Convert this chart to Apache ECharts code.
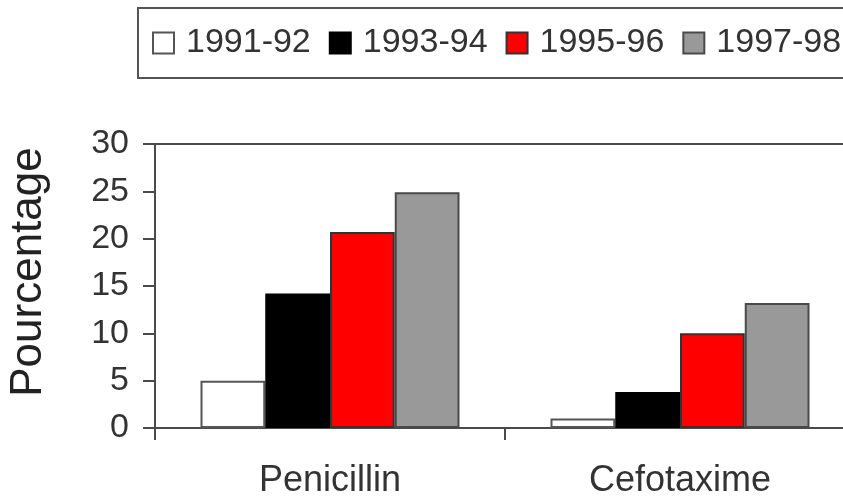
<!DOCTYPE html>
<html>
<head>
<meta charset="utf-8">
<script src="https://cdn.jsdelivr.net/npm/echarts@6/dist/echarts.min.js"></script>
<style>
html,body{margin:0;padding:0;background:#fff;}
#chart{width:843px;height:501px;}
</style>
</head>
<body>
<div id="chart"></div>
<script>
const categories = ['Penicillin', 'Cefotaxime'];
const seriesNames = ['1991-92', '1993-94', '1995-96', '1997-98'];
const v1991 = [5.0, 1.0];
const v1993 = [14.2, 3.8];
const v1995 = [20.7, 10.0];
const v1997 = [24.9, 13.2];
const yTicks = [0, 5, 10, 15, 20, 25, 30];

const fills = ['#ffffff', '#000000', '#ff0000', '#999999'];
const borders = ['#555555', '#000000', '#333333', '#4a4a4a'];
const values = [v1991, v1993, v1995, v1997];

const chart = echarts.init(document.getElementById('chart'));
const lineCol = '#4a4a4a';
chart.setOption({
  animation: false,
  backgroundColor: '#ffffff',
  legend: {
    left: 138,
    top: 8,
    width: 760,
    padding: [17, 40, 17, 14],
    borderColor: '#555555',
    borderWidth: 2,
    itemWidth: 21,
    itemHeight: 21,
    itemGap: 18,
    icon: 'rect',
    data: seriesNames,
    textStyle: {
      fontFamily: "'Liberation Sans', Arial, sans-serif",
      fontSize: 34,
      lineHeight: 36,
      color: '#333333',
      padding: [0, 0, 0, 7]
    }
  },
  grid: {
    left: 155,
    top: 144,
    width: 700,
    height: 284,
    outerBoundsMode: 'none',
    containLabel: false,
    show: true,
    borderColor: lineCol,
    borderWidth: 2,
    backgroundColor: 'transparent'
  },
  xAxis: {
    type: 'category',
    data: categories,
    axisLine: { lineStyle: { color: lineCol, width: 2 } },
    axisTick: { show: true, inside: false, length: 12, lineStyle: { color: lineCol, width: 2 } },
    axisLabel: {
      margin: 35,
      fontFamily: "'Liberation Sans', Arial, sans-serif",
      fontSize: 36,
      color: '#333333'
    }
  },
  yAxis: {
    type: 'value',
    min: 0,
    max: 30,
    interval: 5,
    name: 'Pourcentage',
    nameLocation: 'middle',
    nameGap: 104,
    nameRotate: 90,
    nameTextStyle: {
      fontFamily: "'Liberation Sans', Arial, sans-serif",
      fontSize: 44,
      color: '#222222',
      padding: [0, 0, 0, 28]
    },
    axisLine: { show: true, lineStyle: { color: lineCol, width: 2 } },
    axisTick: { show: true, length: 12, lineStyle: { color: lineCol, width: 2 } },
    splitLine: { show: false },
    axisLabel: {
      margin: 26,
      fontFamily: "'Liberation Sans', Arial, sans-serif",
      fontSize: 34,
      color: '#333333',
      formatter: function (v) { return yTicks.indexOf(v) >= 0 ? String(v) : ''; }
    }
  },
  series: seriesNames.map(function (name, i) {
    return {
      name: name,
      type: 'bar',
      data: values[i],
      barGap: '0%',
      barCategoryGap: '26%',
      itemStyle: { color: fills[i], borderColor: borders[i], borderWidth: 2 }
    };
  })
});
</script>
</body>
</html>
